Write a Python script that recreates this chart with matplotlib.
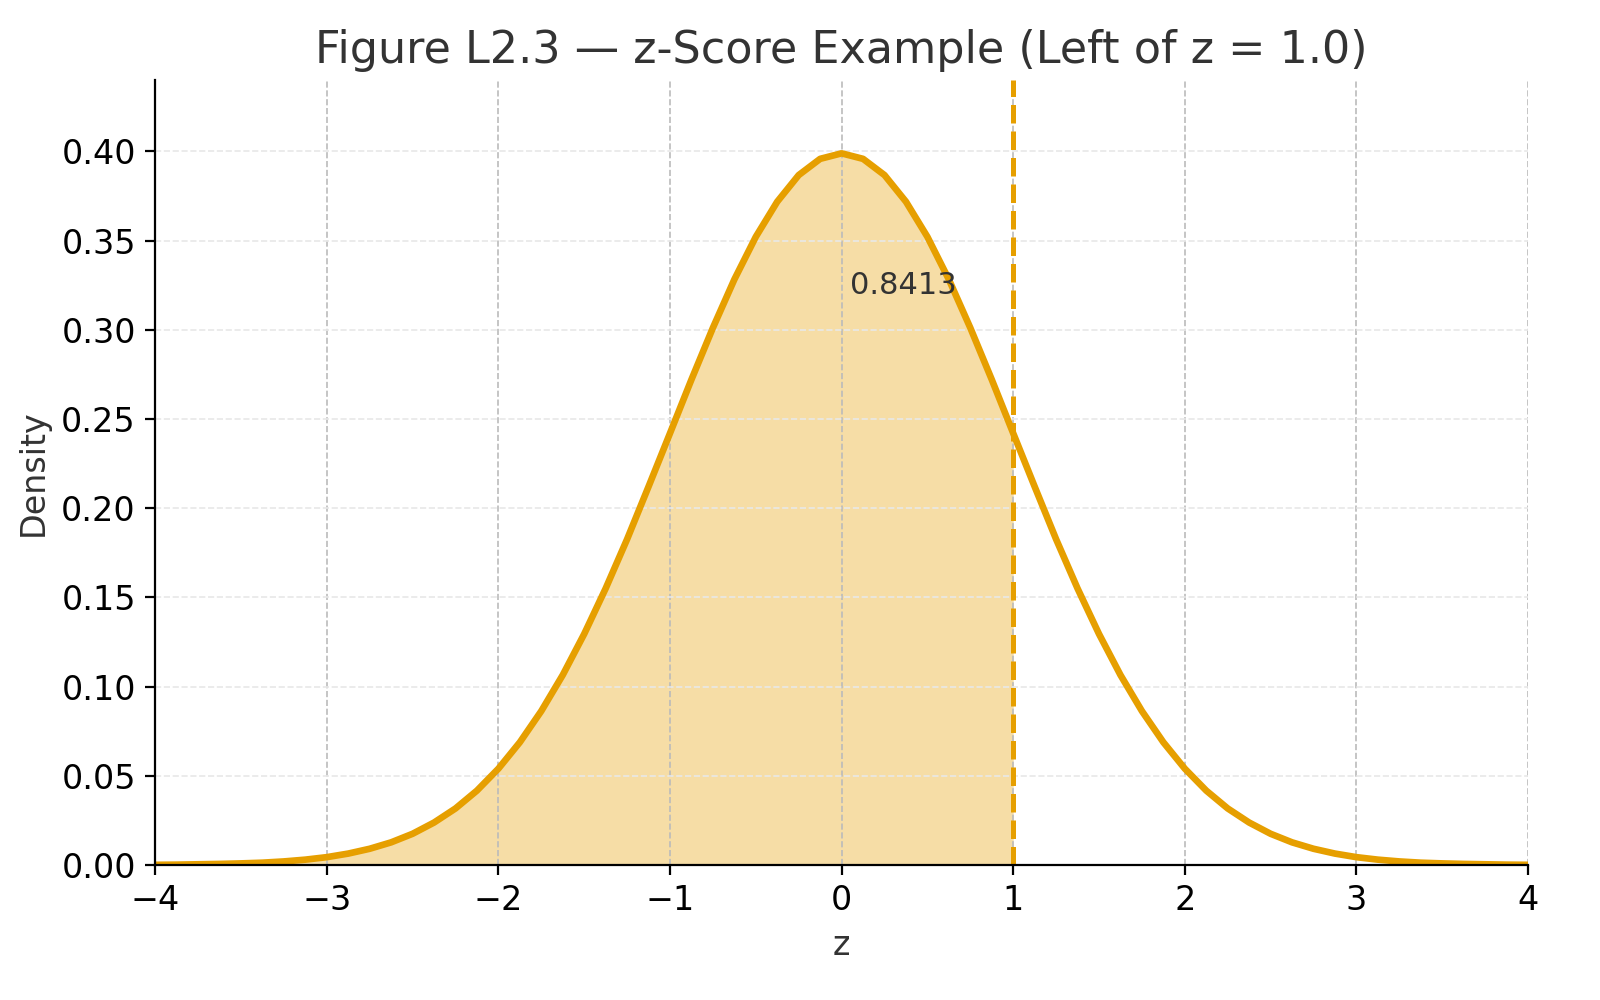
import matplotlib.pyplot as plt
import numpy as np

# density values, z = 0 .. 4 in steps of 0.125 (curve is symmetric)
z_half = np.arange(0, 4.001, 0.125)
dens_half = [0.3989, 0.3958, 0.3867, 0.3718, 0.3521, 0.3282, 0.3011, 0.2721,
             0.2420, 0.2121, 0.1826, 0.1550, 0.1295, 0.1065, 0.0863, 0.0688,
             0.0540, 0.0417, 0.0317, 0.0238, 0.0175, 0.0127, 0.0091, 0.0064,
             0.0044, 0.0030, 0.0020, 0.0013, 0.0009, 0.0006, 0.0004, 0.0002,
             0.0001]
z = np.concatenate([-z_half[:0:-1], z_half])
dens = np.concatenate([dens_half[:0:-1], dens_half])

z_cut = 1.0
area_label = "0.8413"
color = "#E69F00"

fig, ax = plt.subplots(figsize=(8, 5), dpi=200)
ax.plot(z, dens, color=color, lw=2.4, solid_joinstyle="round")
mask = z <= z_cut
ax.fill_between(z[mask], dens[mask], color=color, alpha=0.35, lw=0)
ax.axvline(z_cut, color=color, ls="--", lw=1.8)
ax.text(0.05, 0.32, area_label, fontsize=11, color="#333333")

ax.set_xlim(-4, 4)
ax.set_ylim(0, 0.44)
ax.set_yticks(np.arange(0, 0.41, 0.05))
ax.set_xlabel("z", fontsize=12, color="#333333")
ax.set_ylabel("Density", fontsize=12, color="#333333")
ax.set_title("Figure L2.3 — z-Score Example (Left of z = 1.0)", fontsize=16, color="#333333")
ax.tick_params(labelsize=12)
ax.grid(axis="x", ls="--", color="#bbbbbb", lw=0.6)
ax.grid(axis="y", ls="--", color="#e8e8e8", lw=0.6)
ax.spines["top"].set_visible(False)
ax.spines["right"].set_visible(False)

plt.subplots_adjust(left=0.097, right=0.955, bottom=0.135, top=0.92)
plt.savefig("out.png")
